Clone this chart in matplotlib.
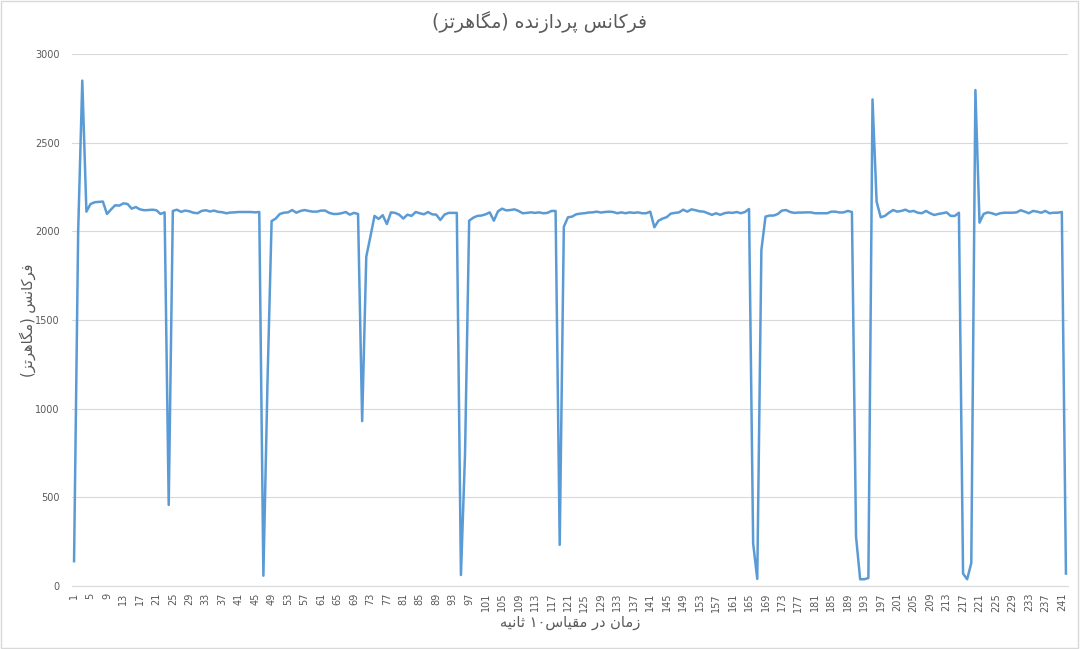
import re
import matplotlib
matplotlib.use("Agg")
import matplotlib.pyplot as plt
from matplotlib.patches import Rectangle

# Data (one value per 10-second step)
steps = list(range(1, 243))
freq_mhz = [
    140, 2000, 2850, 2111, 2154, 2164, 2166, 2168, 2098, 2124,
    2147, 2145, 2158, 2154, 2128, 2137, 2124, 2119, 2120, 2122,
    2119, 2098, 2107, 457, 2115, 2122, 2110, 2117, 2113, 2105,
    2102, 2115, 2119, 2112, 2117, 2110, 2108, 2102, 2106, 2107,
    2109, 2109, 2109, 2109, 2107, 2109, 58, 1150, 2058, 2072,
    2098, 2105, 2107, 2120, 2105, 2115, 2120, 2115, 2111, 2111,
    2117, 2117, 2104, 2098, 2098, 2102, 2109, 2094, 2104, 2098,
    930, 1857, 1970, 2087, 2070, 2091, 2041, 2107, 2104, 2094,
    2072, 2094, 2087, 2109, 2102, 2096, 2109, 2096, 2094, 2064,
    2094, 2104, 2104, 2104, 62, 750, 2060, 2077, 2087, 2089,
    2096, 2107, 2060, 2113, 2128, 2118, 2120, 2124, 2115, 2102,
    2104, 2107, 2104, 2107, 2102, 2104, 2115, 2115, 232, 2026,
    2079, 2083, 2096, 2100, 2102, 2106, 2107, 2111, 2106, 2109,
    2111, 2109, 2102, 2107, 2102, 2107, 2104, 2107, 2102, 2102,
    2111, 2023, 2060, 2072, 2080, 2100, 2104, 2107, 2122, 2111,
    2124, 2119, 2113, 2111, 2102, 2093, 2102, 2093, 2102, 2106,
    2104, 2109, 2102, 2109, 2126, 240, 40, 1895, 2083, 2089,
    2089, 2098, 2117, 2120, 2109, 2104, 2106, 2106, 2107, 2107,
    2102, 2102, 2102, 2102, 2111, 2111, 2106, 2107, 2115, 2109,
    278, 38, 38, 45, 2744, 2167, 2079, 2087, 2105, 2120,
    2111, 2115, 2122, 2111, 2115, 2105, 2102, 2115, 2102, 2092,
    2098, 2102, 2107, 2087, 2087, 2105, 70, 38, 130, 2797,
    2049, 2098, 2107, 2102, 2094, 2102, 2105, 2105, 2105, 2107,
    2119, 2111, 2102, 2115, 2111, 2105, 2115, 2102, 2105, 2105,
    2109, 70,
]
tick_steps = list(range(1, 243, 4))
y_ticks = [0, 500, 1000, 1500, 2000, 2500, 3000]

title_text = "فرکانس پردازنده (مگاهرتز)"
ylabel_text = "فرکانس (مگاهرتز)"
xlabel_text = "زمان در مقیاس۱۰ ثانیه"

# matplotlib has no Arabic shaping, so pick the joined glyph forms by hand
# letter: (isolated, final, initial, medial)
FORMS = {
    'ا': ('\ufe8d', '\ufe8e', None, None),
    'د': ('\ufea9', '\ufeaa', None, None),
    'ر': ('\ufead', '\ufeae', None, None),
    'ز': ('\ufeaf', '\ufeb0', None, None),
    'ت': ('\ufe95', '\ufe96', '\ufe97', '\ufe98'),
    'ث': ('\ufe99', '\ufe9a', '\ufe9b', '\ufe9c'),
    'س': ('\ufeb1', '\ufeb2', '\ufeb3', '\ufeb4'),
    'ف': ('\ufed1', '\ufed2', '\ufed3', '\ufed4'),
    'ق': ('\ufed5', '\ufed6', '\ufed7', '\ufed8'),
    'م': ('\ufee1', '\ufee2', '\ufee3', '\ufee4'),
    'ن': ('\ufee5', '\ufee6', '\ufee7', '\ufee8'),
    'ه': ('\ufee9', '\ufeea', '\ufeeb', '\ufeec'),
    'پ': ('\ufb56', '\ufb57', '\ufb58', '\ufb59'),
    'ک': ('\ufb8e', '\ufb8f', '\ufb90', '\ufb91'),
    'گ': ('\ufb92', '\ufb93', '\ufb94', '\ufb95'),
    'ی': ('\ufbfc', '\ufbfd', '\ufbfe', '\ufbff'),
}
MIRROR = {'(': ')', ')': '('}


def rtl(text):
    out = []
    for k, ch in enumerate(text):
        forms = FORMS.get(ch)
        if forms is None:
            out.append(MIRROR.get(ch, ch))
            continue
        prev = FORMS.get(text[k - 1]) if k > 0 else None
        nxt = text[k + 1] if k + 1 < len(text) else ''
        join_prev = prev is not None and prev[2] is not None
        join_next = forms[2] is not None and nxt in FORMS
        if join_prev and join_next:
            out.append(forms[3])
        elif join_prev:
            out.append(forms[1])
        elif join_next:
            out.append(forms[2])
        else:
            out.append(forms[0])
    # visual order: reverse, but digit runs stay left to right
    runs = re.findall(r'[0-9۰-۹]+|[^0-9۰-۹]+', ''.join(out))
    return ''.join(r if r[0].isdigit() else r[::-1] for r in reversed(runs))


grey = '#595959'
fig = plt.figure(figsize=(10.8, 6.49), dpi=100)
ax = fig.add_axes([72 / 1080, 63 / 649, 996 / 1080, 532 / 649])

ax.plot(steps, freq_mhz, color='#5B9BD5', linewidth=1.8, solid_joinstyle='round')

ax.set_xlim(0.5, 242.5)
ax.set_ylim(0, 3000)
ax.set_yticks(y_ticks)
ax.set_yticklabels([str(v) for v in y_ticks])
ax.set_xticks(tick_steps)
ax.set_xticklabels([str(v) for v in tick_steps], rotation=90)
ax.tick_params(axis='both', length=0, labelsize=7, labelcolor=grey)
ax.tick_params(axis='y', pad=9)
ax.tick_params(axis='x', pad=5)

ax.grid(axis='y', color='#D9D9D9', linewidth=0.8)
ax.set_axisbelow(True)
for side in ['left', 'right', 'top']:
    ax.spines[side].set_visible(False)
ax.spines['bottom'].set_color('#D9D9D9')

fig.text(0.5, 1 - 22 / 649, rtl(title_text), ha='center', va='center',
         fontsize=13.5, color=grey, family='DejaVu Sans')
fig.text(570 / 1080, 1 - 623 / 649, rtl(xlabel_text), ha='center', va='center',
         fontsize=10.5, color=grey, family='DejaVu Sans')
fig.text(28 / 1080, 1 - 320 / 649, rtl(ylabel_text), ha='center', va='center',
         rotation=90, fontsize=10.5, color=grey, family='DejaVu Sans')

# chart area border
fig.patches.append(Rectangle((0.001, 0.001), 0.997, 0.997, transform=fig.transFigure,
                             fill=False, edgecolor='#D9D9D9', linewidth=1))

fig.savefig('out.png', dpi=100)
